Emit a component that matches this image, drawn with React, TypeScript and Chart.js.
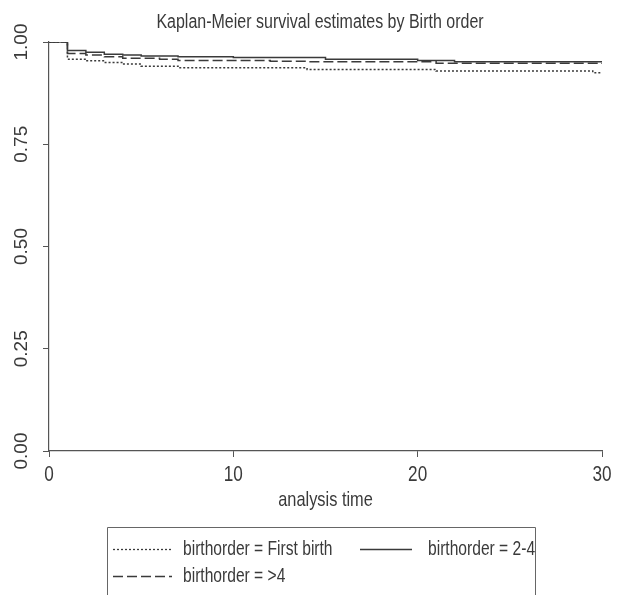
import React, { useEffect, useRef } from "react";
import { Chart, registerables } from "chart.js";

Chart.register(...registerables);

const chartTitle = "Kaplan-Meier survival estimates by Birth order";
const xAxisTitle = "analysis time";
const xTicks = [0, 10, 20, 30];
const xTickLabels = ["0", "10", "20", "30"];
const yTicks = [0, 0.25, 0.5, 0.75, 1];
const yTickLabels = ["0.00", "0.25", "0.50", "0.75", "1.00"];

const seriesNames = [
  "birthorder = First birth",
  "birthorder = 2-4",
  "birthorder = >4",
];

const timesFirst = [0, 1, 2, 3, 4, 5, 7, 14, 21, 29.5, 30];
const survFirst = [1, 0.958, 0.954, 0.95, 0.946, 0.941, 0.937, 0.933, 0.929, 0.925, 0.925];

const timesMid = [0, 1, 2, 3, 4, 5, 7, 10, 15, 20, 22, 30];
const survMid = [1, 0.979, 0.975, 0.97, 0.968, 0.966, 0.964, 0.962, 0.958, 0.955, 0.952, 0.95];

const timesHigh = [0, 1, 2, 3, 4, 6, 7, 12, 14, 21, 30];
const survHigh = [1, 0.972, 0.968, 0.964, 0.96, 0.958, 0.955, 0.953, 0.952, 0.948, 0.946];

const FONT = "'Liberation Sans', Arial, sans-serif";
const INK = "#3a3a3a";

const dashFirst = [2, 2];
const dashMid: number[] = [];
const dashHigh = [10, 4];

function pts(t: number[], s: number[]) {
  return t.map((x, i) => ({ x, y: s[i] }));
}

// draw text compressed horizontally by factor k (narrow typeface look)
function narrowText(ctx: CanvasRenderingContext2D, text: string, x: number, y: number, k: number, align: "left" | "center") {
  ctx.save();
  ctx.translate(x, y);
  ctx.scale(k, 1);
  ctx.textAlign = align;
  ctx.textBaseline = "middle";
  ctx.fillText(text, 0, 0);
  ctx.restore();
}

const overlay = {
  id: "overlay",
  afterDraw(chart: any) {
    const { ctx, chartArea, scales } = chart;
    const cx = (chartArea.left + chartArea.right) / 2;
    ctx.save();
    ctx.fillStyle = INK;
    // title
    ctx.font = `20px ${FONT}`;
    narrowText(ctx, chartTitle, 320, 22, 0.8, "center");
    // y tick labels rotated
    ctx.font = `19px ${FONT}`;
    yTicks.forEach((v, i) => {
      const y = scales.y.getPixelForValue(v);
      ctx.save();
      ctx.translate(22, y);
      ctx.rotate(-Math.PI / 2);
      ctx.textAlign = "center";
      ctx.textBaseline = "middle";
      ctx.fillText(yTickLabels[i], 0, 0);
      ctx.restore();
    });
    // x tick labels
    ctx.font = `22px ${FONT}`;
    xTicks.forEach((v, i) => {
      narrowText(ctx, xTickLabels[i], scales.x.getPixelForValue(v), 475, 0.78, "center");
    });
    // x axis title
    ctx.font = `21px ${FONT}`;
    narrowText(ctx, xAxisTitle, cx, 500, 0.78, "center");
    // legend box
    const bl = 107, br = 535, bt = 527, bb = 600;
    ctx.strokeStyle = "#666";
    ctx.lineWidth = 1;
    ctx.beginPath();
    ctx.moveTo(bl + 0.5, bb);
    ctx.lineTo(bl + 0.5, bt + 0.5);
    ctx.lineTo(br + 0.5, bt + 0.5);
    ctx.lineTo(br + 0.5, bb);
    ctx.stroke();
    const entries = [
      { name: seriesNames[0], dash: dashFirst, x0: 113, x1: 172, tx: 183, y: 549 },
      { name: seriesNames[1], dash: dashMid, x0: 360, x1: 412, tx: 428, y: 549 },
      { name: seriesNames[2], dash: dashHigh, x0: 113, x1: 172, tx: 183, y: 576 },
    ];
    ctx.font = `20px ${FONT}`;
    entries.forEach((e) => {
      ctx.strokeStyle = INK;
      ctx.lineWidth = 1.3;
      ctx.setLineDash(e.dash);
      ctx.beginPath();
      ctx.moveTo(e.x0, e.y + 0.5);
      ctx.lineTo(e.x1, e.y + 0.5);
      ctx.stroke();
      ctx.setLineDash([]);
      narrowText(ctx, e.name, e.tx, e.y, 0.78, "left");
    });
    ctx.restore();
  },
};

export default function App() {
  const ref = useRef<HTMLCanvasElement | null>(null);
  useEffect(() => {
    document.body.style.margin = "0";
    document.body.style.background = "#ffffff";
    const canvas = ref.current!;
    const mk = (label: string, t: number[], s: number[], dash: number[]) => ({
      label,
      data: pts(t, s),
      borderColor: INK,
      borderWidth: 1.5,
      borderDash: dash,
      pointRadius: 0,
      stepped: "before" as const,
      fill: false,
    });
    const chart = new Chart(canvas, {
      type: "line",
      data: {
        datasets: [
          mk(seriesNames[0], timesFirst, survFirst, dashFirst),
          mk(seriesNames[1], timesMid, survMid, dashMid),
          mk(seriesNames[2], timesHigh, survHigh, dashHigh),
        ],
      },
      options: {
        animation: false,
        responsive: false,
        maintainAspectRatio: false,
        layout: { padding: { top: 42, right: 21, bottom: 0, left: 0 } },
        plugins: {
          legend: { display: false },
          title: { display: false },
          tooltip: { enabled: false },
        },
        scales: {
          x: {
            type: "linear",
            min: 0,
            max: 30,
            afterBuildTicks: (scale: any) => {
              scale.ticks = xTicks.map((v) => ({ value: v }));
            },
            afterFit: (scale: any) => {
              scale.height = 144;
            },
            grid: { drawOnChartArea: false, drawTicks: true, tickLength: 6, color: "#555" },
            border: { display: true, color: "#555", width: 1.2 },
            ticks: { color: "rgba(0,0,0,0)", font: { size: 10 }, maxRotation: 0, minRotation: 0 },
          },
          y: {
            type: "linear",
            min: 0,
            max: 1,
            afterBuildTicks: (scale: any) => {
              scale.ticks = yTicks.map((v) => ({ value: v }));
            },
            afterFit: (scale: any) => {
              scale.width = 49;
            },
            grid: { drawOnChartArea: false, drawTicks: true, tickLength: 6, color: "#555" },
            border: { display: true, color: "#555", width: 1.2 },
            ticks: { color: "rgba(0,0,0,0)", font: { size: 10 } },
          },
        },
      },
      plugins: [overlay],
    } as any);
    return () => chart.destroy();
  }, []);
  return <canvas ref={ref} width={623} height={595} style={{ display: "block" }} />;
}
